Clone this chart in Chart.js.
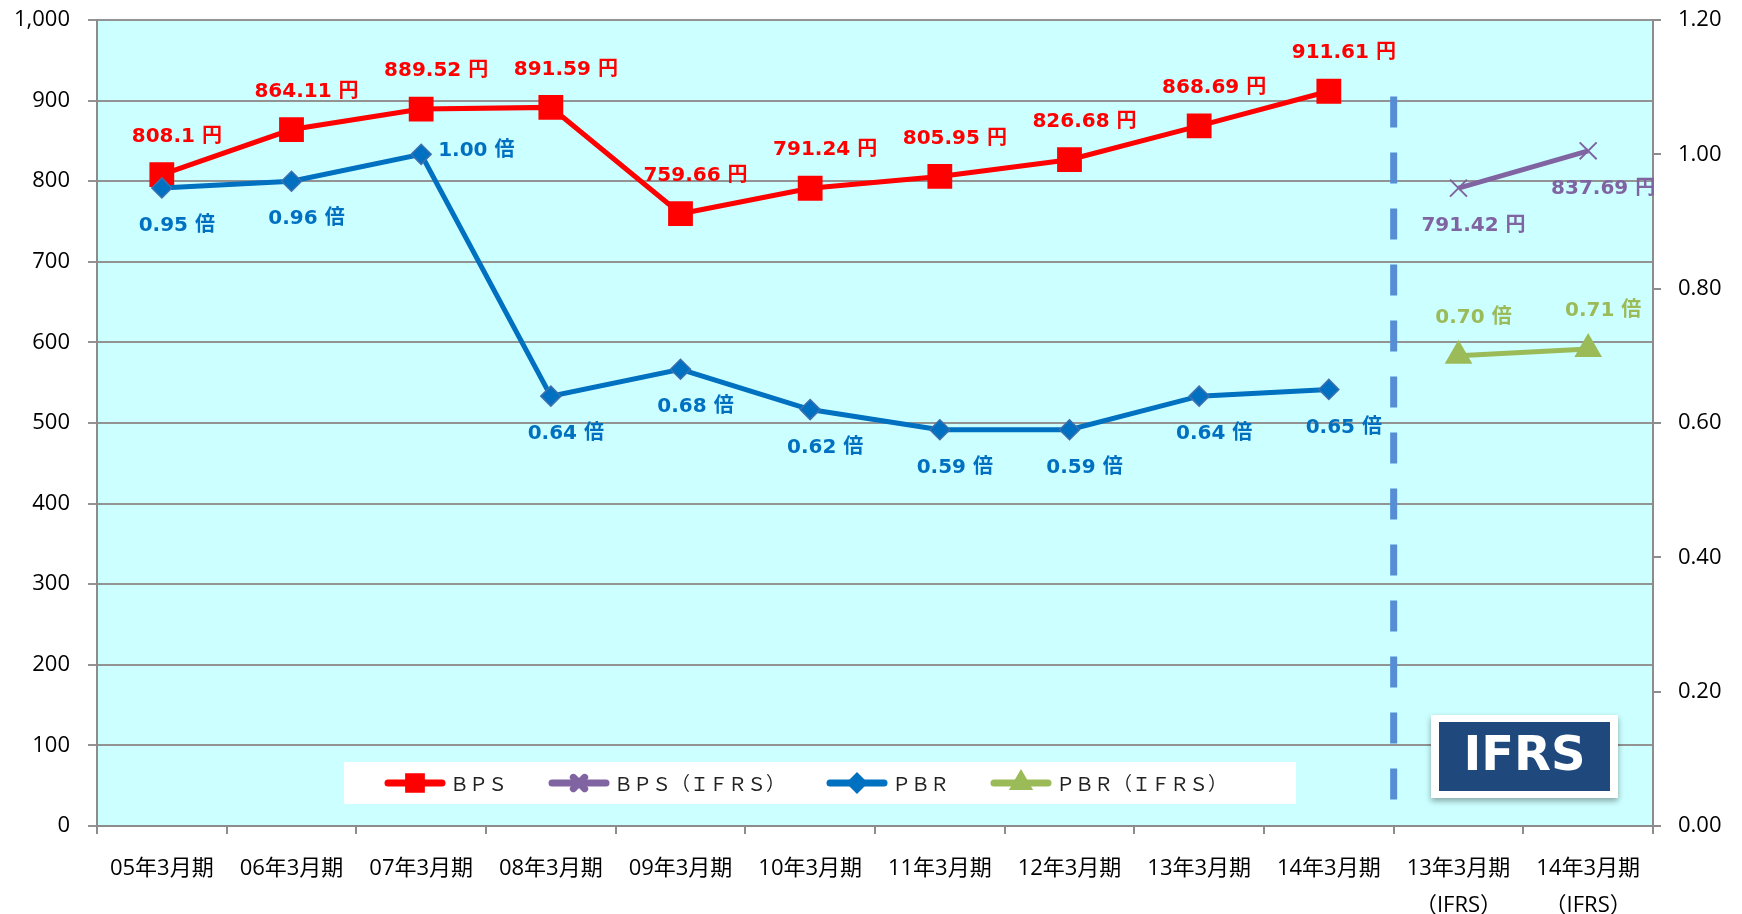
<!DOCTYPE html>
<html lang="ja">
<head>
<meta charset="utf-8">
<title>BPS / PBR</title>
<script src="https://cdn.jsdelivr.net/npm/chart.js@4.4.1/dist/chart.umd.min.js"></script>
<style>
    html, body { margin: 0; padding: 0; background: #ffffff; }
    #wrap { position: relative; width: 1742px; height: 914px; }
</style>
</head>
<body>
<div id="wrap"><canvas id="bpsChart"></canvas></div>
<script>
const categories = [
    "05年3月期", "06年3月期", "07年3月期", "08年3月期", "09年3月期",
    "10年3月期", "11年3月期", "12年3月期", "13年3月期", "14年3月期",
    ["13年3月期", "（IFRS）"], ["14年3月期", "（IFRS）"]
];

const bps = [808.1, 864.11, 889.52, 891.59, 759.66, 791.24, 805.95, 826.68, 868.69, 911.61, null, null];
const bpsIfrs = [null, null, null, null, null, null, null, null, null, null, 791.42, 837.69];
const pbr = [0.95, 0.96, 1.00, 0.64, 0.68, 0.62, 0.59, 0.59, 0.64, 0.65, null, null];
const pbrIfrs = [null, null, null, null, null, null, null, null, null, null, 0.70, 0.71];

const legendNames = ["ＢＰＳ", "ＢＰＳ（ＩＦＲＳ）", "ＰＢＲ", "ＰＢＲ（ＩＦＲＳ）"];

const leftTicks = { min: 0, max: 1000, step: 100 };
const rightTicks = { min: 0, max: 1.2, step: 0.2 };

const tickFont = { family: "'Open Sans', 'Noto Sans CJK JP', sans-serif", size: 22 };
const labelFamily = "'DejaVu Sans', 'Noto Sans CJK JP', sans-serif";

function labelText(ds, v)
{
    if (ds.unit === "円")
    {
        return String(v) + " 円";
    }
    return v.toFixed(2) + " 倍";
}

// keep the plot area where the layout padding puts it
function noScalePadding(scale)
{
    scale.paddingTop = 0;
    scale.paddingBottom = 0;
    scale.paddingLeft = 0;
    scale.paddingRight = 0;
}

const areaBackground = {
    id: 'areaBackground',
    beforeDraw(chart)
    {
        const { ctx, chartArea: a } = chart;
        ctx.save();
        ctx.fillStyle = '#ccffff';
        ctx.fillRect(a.left, a.top, a.right - a.left, a.bottom - a.top);
        ctx.restore();
    }
};

const ifrsDivider = {
    id: 'ifrsDivider',
    afterDatasetsDraw(chart)
    {
        const { ctx, scales } = chart;
        const x = (scales.x.getPixelForValue(9) + scales.x.getPixelForValue(10)) / 2;
        ctx.save();
        ctx.strokeStyle = '#558ed5';
        ctx.lineWidth = 7;
        ctx.setLineDash([31, 25]);
        ctx.beginPath();
        ctx.moveTo(x, scales.y.getPixelForValue(905));
        ctx.lineTo(x, scales.y.getPixelForValue(30));
        ctx.stroke();
        ctx.restore();
    }
};

const pointLabels = {
    id: 'pointLabels',
    afterDatasetsDraw(chart)
    {
        const ctx = chart.ctx;
        ctx.save();
        ctx.font = "bold 20px " + labelFamily;
        ctx.textBaseline = 'middle';

        chart.data.datasets.forEach((ds, i) => {
            const meta = chart.getDatasetMeta(i);
            meta.data.forEach((pt, j) => {
                const v = ds.data[j];
                if (v === null) return;

                const side = (ds.labelExceptions && ds.labelExceptions[j]) || ds.labelSide;
                const text = labelText(ds, v);
                ctx.fillStyle = ds.borderColor;

                if (side === 'right')
                {
                    ctx.textAlign = 'left';
                    ctx.fillText(text, pt.x + 17, pt.y - 4);
                }
                else
                {
                    ctx.textAlign = 'center';
                    ctx.fillText(text, pt.x + 15, pt.y + (side === 'above' ? -38 : 38));
                }
            });
        });
        ctx.restore();
    }
};

const insideLegend = {
    id: 'insideLegend',
    afterDraw(chart)
    {
        const { ctx, chartArea: a } = chart;
        const boxX = a.left + 247, boxY = a.bottom - 64, boxW = 952, boxH = 42;
        const midY = boxY + boxH / 2;

        ctx.save();
        ctx.fillStyle = '#ffffff';
        ctx.fillRect(boxX, boxY, boxW, boxH);

        ctx.font = "19px 'Noto Sans CJK JP', sans-serif";
        ctx.textBaseline = 'middle';
        ctx.textAlign = 'left';

        let x = boxX + 44;
        chart.data.datasets.forEach((ds, i) => {
            ctx.strokeStyle = ds.borderColor;
            ctx.lineWidth = 7;
            ctx.lineCap = 'round';
            ctx.beginPath();
            ctx.moveTo(x, midY);
            ctx.lineTo(x + 54, midY);
            ctx.stroke();

            Chart.helpers.drawPoint(ctx, {
                pointStyle: ds.pointStyle,
                radius: ds.legendRadius,
                borderWidth: 2
            }, x + 27, midY);
            ctx.fillStyle = ds.pointBackgroundColor;
            ctx.fill();

            ctx.fillStyle = '#222222';
            ctx.fillText(legendNames[i], x + 62, midY + 1);
            x += 62 + ctx.measureText(legendNames[i]).width + 45;
        });
        ctx.restore();
    }
};

const ifrsBadge = {
    id: 'ifrsBadge',
    afterDraw(chart)
    {
        const { ctx, chartArea: a } = chart;
        const w = 187, h = 83;
        const x = a.right - 35 - w, y = a.bottom - 28 - h;

        ctx.save();
        ctx.shadowColor = 'rgba(0,0,0,0.35)';
        ctx.shadowBlur = 6;
        ctx.shadowOffsetY = 3;
        ctx.fillStyle = '#ffffff';
        ctx.fillRect(x, y, w, h);
        ctx.shadowColor = 'transparent';

        ctx.fillStyle = '#1f497d';
        ctx.fillRect(x + 8, y + 7, w - 16, h - 14);

        ctx.fillStyle = '#ffffff';
        ctx.font = "bold 48px 'DejaVu Sans', sans-serif";
        ctx.textAlign = 'center';
        ctx.textBaseline = 'middle';
        ctx.fillText("IFRS", x + w / 2, y + h / 2 + 1);
        ctx.restore();
    }
};

function makeChart()
{
    const ctx = document.getElementById('bpsChart').getContext('2d');

    new Chart(ctx, {
        type: 'line',
        data: {
            labels: categories,
            datasets: [
                {
                    label: legendNames[0],
                    data: bps,
                    yAxisID: 'y',
                    unit: "円",
                    labelSide: 'above',
                    borderColor: '#ff0000',
                    backgroundColor: '#ff0000',
                    pointBackgroundColor: '#ff0000',
                    pointBorderColor: '#ff0000',
                    borderWidth: 5,
                    pointStyle: 'rect',
                    pointRadius: 14,
                    legendRadius: 9,
                    order: 4
                },
                {
                    label: legendNames[1],
                    data: bpsIfrs,
                    yAxisID: 'y',
                    unit: "円",
                    labelSide: 'below',
                    borderColor: '#8064a2',
                    backgroundColor: '#8064a2',
                    pointBackgroundColor: '#8064a2',
                    pointBorderColor: '#8064a2',
                    borderWidth: 5,
                    pointStyle: 'crossRot',
                    pointRadius: 12,
                    pointBorderWidth: 2,
                    legendRadius: 8,
                    order: 3
                },
                {
                    label: legendNames[2],
                    data: pbr,
                    yAxisID: 'y1',
                    unit: "倍",
                    labelSide: 'below',
                    labelExceptions: { 2: 'right' },
                    borderColor: '#0070c0',
                    backgroundColor: '#0070c0',
                    pointBackgroundColor: '#0070c0',
                    pointBorderColor: '#3f6fae',
                    borderWidth: 5,
                    pointStyle: 'rectRot',
                    pointRadius: 10,
                    pointBorderWidth: 1.5,
                    legendRadius: 6,
                    order: 1
                },
                {
                    label: legendNames[3],
                    data: pbrIfrs,
                    yAxisID: 'y1',
                    unit: "倍",
                    labelSide: 'above',
                    borderColor: '#9bbb59',
                    backgroundColor: '#9bbb59',
                    pointBackgroundColor: '#9bbb59',
                    pointBorderColor: '#9bbb59',
                    borderWidth: 5,
                    pointStyle: 'triangle',
                    pointRadius: 11,
                    legendRadius: 7,
                    order: 2
                }
            ]
        },
        options: {
            responsive: true,
            maintainAspectRatio: false,
            animation: false,
            layout: { padding: { top: 20, left: 0, right: 0, bottom: 0 } },
            elements: { line: { tension: 0 } },
            plugins: {
                legend: { display: false },
                tooltip: { enabled: false }
            },
            scales: {
                x: {
                    offset: true,
                    grid: {
                        offset: true,
                        drawOnChartArea: false,
                        drawTicks: true,
                        tickLength: 8,
                        color: '#8c8c8c',
                        lineWidth: 2
                    },
                    border: { color: '#8c8c8c', width: 2 },
                    ticks: {
                        color: '#000000',
                        font: { ...tickFont, lineHeight: 1.65 },
                        padding: 17,
                        maxRotation: 0,
                        autoSkip: false
                    },
                    afterFit: (scale) => { scale.height = 88; noScalePadding(scale); }
                },
                y: {
                    position: 'left',
                    min: leftTicks.min,
                    max: leftTicks.max,
                    grid: {
                        color: '#939393',
                        lineWidth: 2,
                        tickLength: 9
                    },
                    border: { color: '#8c8c8c', width: 2 },
                    ticks: {
                        stepSize: leftTicks.step,
                        color: '#000000',
                        font: tickFont,
                        padding: 18
                    },
                    afterFit: (scale) => { scale.width = 97; noScalePadding(scale); }
                },
                y1: {
                    position: 'right',
                    min: rightTicks.min,
                    max: rightTicks.max,
                    grid: {
                        drawOnChartArea: false,
                        color: '#8c8c8c',
                        lineWidth: 2,
                        tickLength: 8
                    },
                    border: { color: '#8c8c8c', width: 2 },
                    ticks: {
                        stepSize: rightTicks.step,
                        color: '#000000',
                        font: tickFont,
                        padding: 17,
                        callback: (v) => Number(v).toFixed(2)
                    },
                    afterFit: (scale) => { scale.width = 89; noScalePadding(scale); }
                }
            }
        },
        plugins: [areaBackground, ifrsDivider, pointLabels, insideLegend, ifrsBadge]
    });
}

makeChart();
</script>
</body>
</html>
